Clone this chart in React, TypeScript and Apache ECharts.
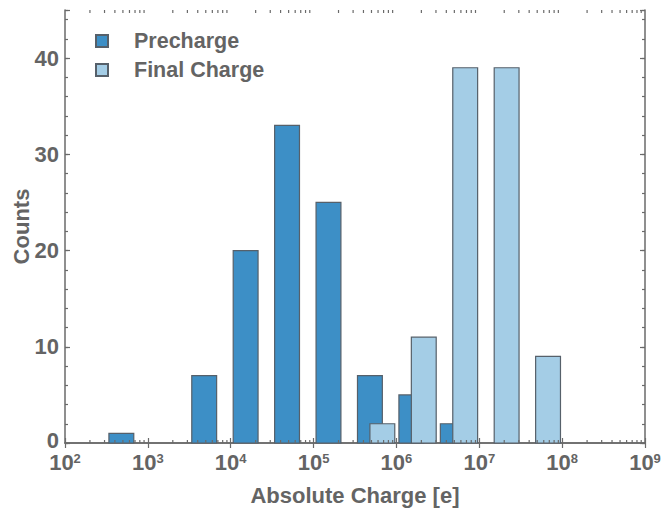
import React, { useEffect, useRef } from 'react';
import * as echarts from 'echarts';

// Histogram bins: lower edge exponent (log10) of each half-decade bin
const binLowerExponents = [2.5, 3, 3.5, 4, 4.5, 5, 5.5, 6, 6.5, 7, 7.5];
const prechargeCounts = [1, 0, 7, 20, 33, 25, 7, 5, 2, 0, 0];
const finalChargeCounts = [0, 0, 0, 0, 0, 0, 2, 11, 39, 39, 9];
const seriesNames = ['Precharge', 'Final Charge'];
const xAxisMin = 1e2;
const xAxisMax = 1e9;
const yAxisMax = 45;
const yMajorStep = 10;
const yMinorStep = 2;
const minorTickMultipliers = [2, 3, 4, 5, 6, 7, 8, 9];
const decadeStarts = [1e2, 1e3, 1e4, 1e5, 1e6, 1e7, 1e8];

const BIN_WIDTH_EXP = 0.5;
const BAR_FRACTION = 0.6;
const PRE_OFFSET = 0.06;
const FINAL_OFFSET = 0.36;

const TEXT_COLOR = '#646464';
const AXIS_COLOR = '#6a6a6a';
const FONT = '"Liberation Sans", Arial, sans-serif';
const PRE_COLOR = '#3d8fc6';
const FINAL_COLOR = '#a4cde6';
const EDGE_COLOR = '#56606a';

function buildBars(counts: number[], offset: number) {
  const out: number[][] = [];
  counts.forEach((c, i) => {
    if (c > 0) {
      const e = binLowerExponents[i];
      out.push([
        Math.pow(10, e + BIN_WIDTH_EXP * offset),
        Math.pow(10, e + BIN_WIDTH_EXP * (offset + BAR_FRACTION)),
        c,
      ]);
    }
  });
  return out;
}

const minorTickValues: number[][] = [];
decadeStarts.forEach((d) => minorTickMultipliers.forEach((m) => minorTickValues.push([m * d])));

function barRenderer(fill: string) {
  return (params: any, api: any) => {
    const p0 = api.coord([api.value(0), api.value(2)]);
    const p1 = api.coord([api.value(1), 0]);
    return {
      type: 'rect',
      shape: { x: p0[0], y: p0[1], width: p1[0] - p0[0], height: p1[1] - p0[1] },
      style: { fill, stroke: EDGE_COLOR, lineWidth: 1.2 },
    };
  };
}

export default function App() {
  const ref = useRef<HTMLDivElement>(null);
  useEffect(() => {
    if (!ref.current) return;
    const chart = echarts.init(ref.current, undefined, { renderer: 'svg' });
    const axisLineStyle = { color: AXIS_COLOR, width: 1.5 };
    const labelFont = { fontSize: 22, fontWeight: 'bold', color: TEXT_COLOR, fontFamily: FONT };
    const baseX = {
      type: 'log',
      logBase: 10,
      min: xAxisMin,
      max: xAxisMax,
      splitNumber: 7,
      splitLine: { show: false },
      axisLine: { show: true, lineStyle: axisLineStyle },
      axisTick: { show: true, inside: true, length: 5, lineStyle: { color: AXIS_COLOR, width: 1.2 } },
    };
    const baseY = {
      type: 'value',
      min: 0,
      max: yAxisMax,
      splitLine: { show: false },
    };
    const option: any = {
      animation: false,
      backgroundColor: '#ffffff',
      grid: { left: 65, right: 20, top: 10, bottom: 67, containLabel: false, outerBoundsMode: 'none' },
      legend: {
        data: seriesNames,
        orient: 'vertical',
        left: 95,
        top: 29,
        padding: 0,
        itemWidth: 12,
        itemHeight: 12,
        itemGap: 5,
        icon: 'rect',
        textStyle: {
          fontSize: 21.5,
          fontWeight: 'bold',
          color: TEXT_COLOR,
          fontFamily: FONT,
          lineHeight: 24,
          padding: [0, 0, 0, 21],
        },
      },
      xAxis: [
        {
          ...baseX,
          position: 'bottom',
          name: 'Absolute Charge [e]',
          nameLocation: 'middle',
          nameGap: 41,
          nameMoveOverlap: false,
          nameTextStyle: { ...labelFont },
          axisLabel: {
            margin: 9,
            formatter: (v: number) => `{b|10}{s|${Math.round(Math.log10(v))}}`,
            rich: {
              b: { ...labelFont, lineHeight: 20 },
              s: { ...labelFont, fontSize: 13, lineHeight: 14, verticalAlign: 'top' },
            },
          },
        },
        { ...baseX, position: 'top', axisLabel: { show: false } },
      ],
      yAxis: [
        {
          ...baseY,
          position: 'left',
          interval: yMajorStep,
          name: 'Counts',
          nameLocation: 'middle',
          nameGap: 33,
          nameMoveOverlap: false,
          nameTextStyle: { ...labelFont },
          axisLine: { show: true, lineStyle: axisLineStyle },
          axisTick: { show: true, inside: true, length: 5, lineStyle: { color: AXIS_COLOR, width: 1.2 } },
          axisLabel: {
            margin: 6,
            ...labelFont,
            lineHeight: 14,
            formatter: (v: number) => (v === 0 ? '{z|0}' : v % yMajorStep === 0 ? String(v) : ''),
            rich: {
              z: { ...labelFont, lineHeight: 14, padding: [0, 0, 6, 0] },
            },
          },
        },
        {
          ...baseY,
          position: 'left',
          interval: yMinorStep,
          axisLine: { show: false },
          axisTick: { show: true, inside: true, length: 3, lineStyle: { color: AXIS_COLOR, width: 1.2 } },
          axisLabel: { show: false },
        },
        {
          ...baseY,
          position: 'right',
          interval: yMajorStep,
          axisLine: { show: true, lineStyle: axisLineStyle },
          axisTick: { show: true, inside: true, length: 5, lineStyle: { color: AXIS_COLOR, width: 1.2 } },
          axisLabel: { show: false },
        },
        {
          ...baseY,
          position: 'right',
          interval: yMinorStep,
          axisLine: { show: false },
          axisTick: { show: true, inside: true, length: 3, lineStyle: { color: AXIS_COLOR, width: 1.2 } },
          axisLabel: { show: false },
        },
      ],
      series: [
        {
          name: seriesNames[0],
          type: 'custom',
          xAxisIndex: 0,
          yAxisIndex: 0,
          encode: { x: [0, 1], y: 2 },
          itemStyle: { color: PRE_COLOR, borderColor: EDGE_COLOR, borderWidth: 1 },
          renderItem: barRenderer(PRE_COLOR),
          data: buildBars(prechargeCounts, PRE_OFFSET),
          z: 2,
        },
        {
          name: seriesNames[1],
          type: 'custom',
          xAxisIndex: 0,
          yAxisIndex: 0,
          encode: { x: [0, 1], y: 2 },
          itemStyle: { color: FINAL_COLOR, borderColor: EDGE_COLOR, borderWidth: 1 },
          renderItem: barRenderer(FINAL_COLOR),
          data: buildBars(finalChargeCounts, FINAL_OFFSET),
          z: 3,
        },
        {
          name: 'minorTicks',
          type: 'custom',
          xAxisIndex: 0,
          yAxisIndex: 0,
          silent: true,
          encode: { x: 0 },
          z: 4,
          renderItem: (params: any, api: any) => {
            const x = api.coord([api.value(0), 0])[0];
            const cs = params.coordSys;
            const bottom = cs.y + cs.height;
            const top = cs.y;
            const style = { stroke: AXIS_COLOR, lineWidth: 1.2 };
            return {
              type: 'group',
              children: [
                { type: 'line', shape: { x1: x, y1: bottom, x2: x, y2: bottom - 3 }, style },
                { type: 'line', shape: { x1: x, y1: top, x2: x, y2: top + 3 }, style },
              ],
            };
          },
          data: minorTickValues,
        },
      ],
    };
    chart.setOption(option);
    return () => chart.dispose();
  }, []);
  return <div ref={ref} style={{ position: 'absolute', left: 0, top: 0, width: 665, height: 510 }} />;
}
